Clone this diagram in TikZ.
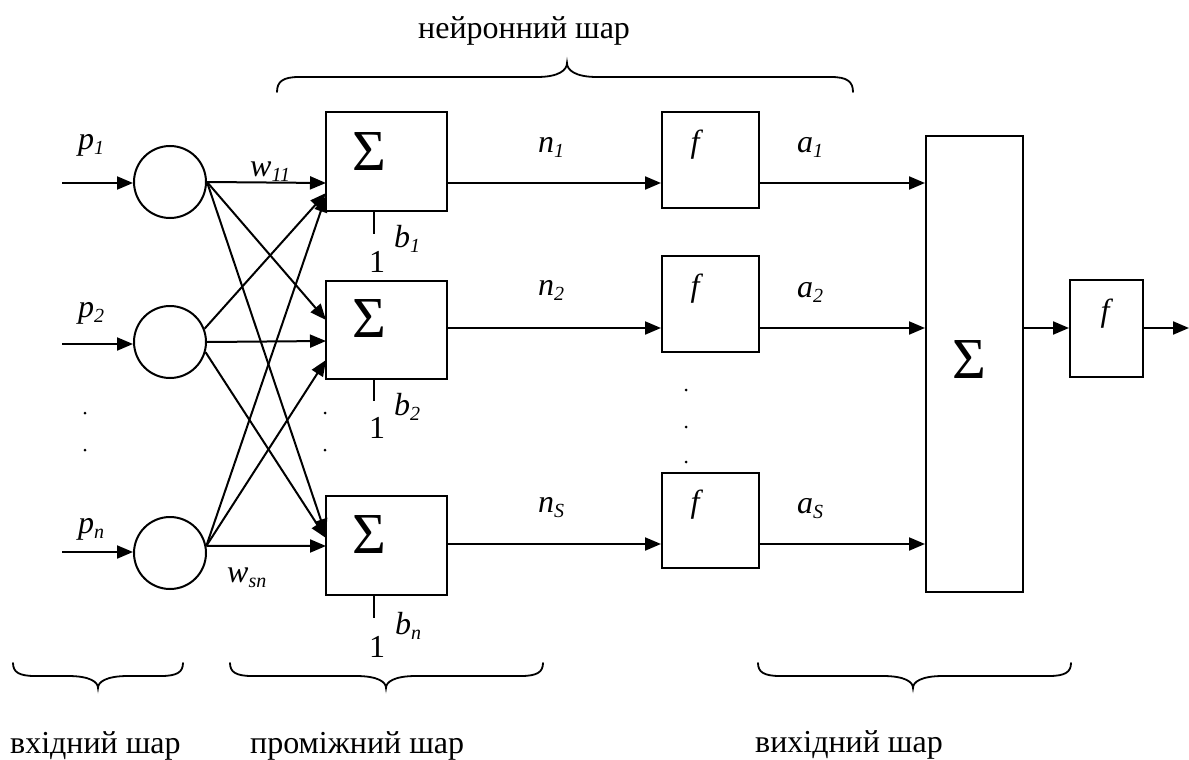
\documentclass[tikz,border=0pt]{standalone}
\usepackage{fontspec}
\setmainfont{Liberation Serif}
\usetikzlibrary{arrows.meta}
\newcommand{\isub}[2]{\textit{#1}\raisebox{-5pt}{\fontsize{20}{20}\selectfont\textit{#2}}}
\newcommand{\bracepath}[6]{% #1 x1, #2 xtip, #3 x2, #4 yend, #5 ystraight, #6 ytip
  \draw[brc] (#1,#4) .. controls (#1,{#5+(#4-#5)*0.3}) and ({#1+6},#5) .. ({#1+22},#5)
    -- ({#2-30},#5) .. controls ({#2-8},#5) and (#2,{#5+(#6-#5)*0.5}) .. (#2,#6)
    .. controls (#2,{#5+(#6-#5)*0.5}) and ({#2+8},#5) .. ({#2+30},#5)
    -- ({#3-22},#5) .. controls ({#3-6},#5) and (#3,{#5+(#4-#5)*0.3}) .. (#3,#4);}
\begin{document}
\begin{tikzpicture}[x=1pt,y=-1pt,
  lw/.style={line width=2pt},
  brc/.style={line width=1.8pt, line cap=round},
  arr/.style={line width=2pt,-{Triangle[length=16pt,width=13pt]}},
  neuron/.style={draw,circle,line width=2pt,minimum size=72pt,inner sep=0pt},
  blk/.style={draw,rectangle,line width=2pt,inner sep=0pt},
  lab/.style={inner sep=0pt,font=\fontsize{32}{38}\selectfont},
  sig/.style={inner sep=0pt,anchor=base west,font=\fontsize{58}{60}\selectfont},
  dot/.style={fill=black}]
\useasboundingbox (0,0) rectangle (1189,760);

% input neurons
\node[neuron] (c1) at (170,182) {};
\node[neuron] (c2) at (170,342) {};
\node[neuron] (c3) at (170,553) {};

% summation blocks
\node[blk,minimum width=121pt,minimum height=99pt] (s1) at (386.5,161.5) {};
\node[blk,minimum width=121pt,minimum height=98pt] (s2) at (386.5,330) {};
\node[blk,minimum width=121pt,minimum height=99pt] (s3) at (386.5,545.5) {};
\node[sig] (g1) at (352,170) {Σ};
\node[sig] (g2) at (352,337) {Σ};
\node[sig] (g3) at (352,553) {Σ};

% activation blocks
\node[blk,minimum width=97pt,minimum height=96pt] (f1) at (710.5,160) {};
\node[blk,minimum width=97pt,minimum height=96pt] (f2) at (710.5,304) {};
\node[blk,minimum width=97pt,minimum height=95pt] (f3) at (710.5,520.5) {};
\node[lab,anchor=base] (fl1) at (697,152) {\textit{f}};
\node[lab,anchor=base] (fl2) at (697,296) {\textit{f}};
\node[lab,anchor=base] (fl3) at (697,512) {\textit{f}};

% output block
\node[blk,minimum width=97pt,minimum height=456pt] (big) at (974.5,364) {};
\node[sig] (gb) at (952,378) {Σ};
\node[blk,minimum width=73pt,minimum height=97pt] (f4) at (1106.5,328.5) {};
\node[lab,anchor=base] (fl4) at (1107,321) {\textit{f}};

% row levels and free ends
\coordinate (r1) at (0,183);
\coordinate (r2) at (0,328);
\coordinate (r3) at (0,544);
\coordinate (i1) at (62,183);
\coordinate (i2) at (62,344);
\coordinate (i3) at (62,552);
\coordinate (out) at (1189,328);
\coordinate (t11) at (326,183);
\coordinate (t21) at (326,193);
\coordinate (t31) at (326,196);
\coordinate (t12) at (326,320);
\coordinate (t22) at (326,341);
\coordinate (t32) at (326,360);
\coordinate (t13) at (326,535);
\coordinate (t23) at (326,538);
\coordinate (t33) at (326,546);
\coordinate (bx) at (374,0);

% inputs
\draw[arr] (i1) -- (c1.west |- i1);
\draw[arr] (i2) -- (c2.west |- i2);
\draw[arr] (i3) -- (c3.west |- i3);

% weights
\draw[arr] (c1.east) -- (t11);
\draw[arr] (c1.east) -- (t12);
\draw[arr] (c1.east) -- (t13);
\draw[arr] (c2.21) -- (t21);
\draw[arr] (c2.east) -- (t22);
\draw[arr] (c2.-16) -- (t23);
\draw[arr] (c3.11) -- (t31);
\draw[arr] (c3.11) -- (t32);
\draw[arr] (c3.11) -- (t33);

% n connections
\draw[arr] (s1.east |- r1) -- (f1.west |- r1);
\draw[arr] (s2.east |- r2) -- (f2.west |- r2);
\draw[arr] (s3.east |- r3) -- (f3.west |- r3);
% a connections
\draw[arr] (f1.east |- r1) -- (big.west |- r1);
\draw[arr] (f2.east |- r2) -- (big.west |- r2);
\draw[arr] (f3.east |- r3) -- (big.west |- r3);
\draw[arr] (big.east |- r2) -- (f4.west |- r2);
\draw[arr] (f4.east |- r2) -- (out);

% biases
\draw[lw] (s1.south -| bx) -- ++(0,22);
\draw[lw] (s2.south -| bx) -- ++(0,21);
\draw[lw] (s3.south -| bx) -- ++(0,22);
\node[lab,anchor=base] (one1) at (377,272) {1};
\node[lab,anchor=base] (one2) at (377,438) {1};
\node[lab,anchor=base] (one3) at (377,657) {1};
\node[lab,anchor=base west] (b1) at (394,247) {\isub{b}{1}};
\node[lab,anchor=base west] (b2) at (394,415) {\isub{b}{2}};
\node[lab,anchor=base west] (b3) at (395,634) {\isub{b}{n}};

% labels
\node[lab,anchor=base west] (p1) at (78,149) {\isub{p}{1}};
\node[lab,anchor=base west] (p2) at (78,317) {\isub{p}{2}};
\node[lab,anchor=base west] (p3) at (78,533) {\isub{p}{n}};
\node[lab,anchor=base west] (w11) at (250,176) {\isub{w}{11}};
\node[lab,anchor=base west] (wsn) at (227,582) {\isub{w}{sn}};
\node[lab,anchor=base west] (n1) at (538,152) {\isub{n}{1}};
\node[lab,anchor=base west] (n2) at (538,295) {\isub{n}{2}};
\node[lab,anchor=base west] (n3) at (538,512) {\isub{n}{S}};
\node[lab,anchor=base west] (a1) at (797,152) {\isub{a}{1}};
\node[lab,anchor=base west] (a2) at (797,297) {\isub{a}{2}};
\node[lab,anchor=base west] (a3) at (797,513) {\isub{a}{S}};

% ellipsis dots
\fill[dot] (85,413) circle (1.5);
\fill[dot] (85,450) circle (1.5);
\fill[dot] (325,413) circle (1.5);
\fill[dot] (325,450) circle (1.5);
\fill[dot] (686,390) circle (1.5);
\fill[dot] (686,427) circle (1.5);
\fill[dot] (686,462) circle (1.5);

% braces
\bracepath{277}{567}{853}{92}{77}{63}
\bracepath{13}{98}{183}{663}{676}{688}
\bracepath{230}{386}{543}{663}{676}{688}
\bracepath{758}{913}{1071}{663}{676}{688}

% layer titles
\node[lab,anchor=base west] (tn) at (418,39) {нейронний шар};
\node[lab,anchor=base west] (tin) at (10,753) {вхідний шар};
\node[lab,anchor=base west] (tmid) at (250,753) {проміжний шар};
\node[lab,anchor=base west] (tout) at (755,752) {вихідний шар};
\end{tikzpicture}
\end{document}
